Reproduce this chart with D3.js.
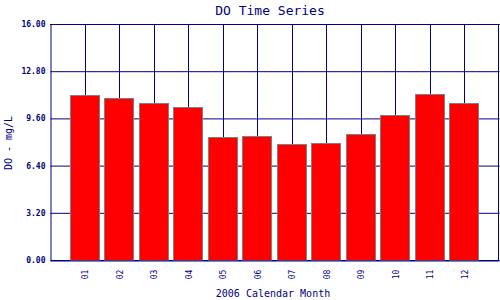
<!DOCTYPE html>
<html>
<head>
<meta charset="utf-8">
<script src="https://cdn.jsdelivr.net/npm/d3@7"></script>
<style>
  body { margin: 0; background: #fff; }
  svg { display: block; }
</style>
</head>
<body>
<div id="chart"></div>
<script>
// monthly DO values, 2006
const months = ['01', '02', '03', '04', '05', '06', '07', '08', '09', '10', '11', '12'];
const doValues = [11.17, 10.96, 10.62, 10.35, 8.32, 8.39, 7.84, 7.91, 8.52, 9.81, 11.23, 10.62];
const yTicks = [0, 3.2, 6.4, 9.6, 12.8, 16];

const width = 500, height = 300;
const margin = { top: 24, right: 1, bottom: 40, left: 50 };
const navy = '#000080';
const font = '"DejaVu Sans Mono", "Liberation Mono", monospace';

const svg = d3.select('#chart')
    .append('svg')
    .attr('width', width)
    .attr('height', height);

const x = d3.scalePoint()
    .domain(months)
    .range([margin.left, width - margin.right])
    .padding(1);

const y = d3.scaleLinear()
    .domain([0, 16])
    .range([height - margin.bottom, margin.top]);

const plotW = width - margin.right - margin.left;
const plotH = height - margin.bottom - margin.top;

// vertical grid lines at month centres
svg.append('g')
    .selectAll('line')
    .data(months)
    .join('line')
    .attr('x1', d => Math.round(x(d)) + 0.5)
    .attr('x2', d => Math.round(x(d)) + 0.5)
    .attr('y1', margin.top)
    .attr('y2', height - margin.bottom)
    .attr('stroke', navy);

// y axis + horizontal grid
const yAxis = svg.append('g')
    .attr('transform', `translate(${margin.left + 0.5},0)`)
    .call(d3.axisLeft(y)
        .tickValues(yTicks)
        .tickFormat(d3.format('.2f'))
        .tickSizeInner(-plotW)
        .tickSizeOuter(0)
        .tickPadding(5));
yAxis.select('.domain').attr('stroke', navy);
yAxis.selectAll('.tick line').attr('stroke', navy);
yAxis.selectAll('.tick text')
    .attr('fill', navy)
    .style('font-family', font)
    .style('font-size', '8px')
    .style('font-weight', 'bold');

// frame: top and right
svg.append('line')
    .attr('x1', margin.left).attr('x2', width - margin.right + 0.5)
    .attr('y1', margin.top + 0.5).attr('y2', margin.top + 0.5)
    .attr('stroke', navy);
svg.append('line')
    .attr('x1', width - margin.right - 0.5).attr('x2', width - margin.right - 0.5)
    .attr('y1', margin.top).attr('y2', height - margin.bottom)
    .attr('stroke', navy);

// bars
const barW = 29;
svg.append('g')
    .selectAll('rect')
    .data(doValues)
    .join('rect')
    .attr('x', (d, i) => Math.round(x(months[i]) - 15) + 0.5)
    .attr('y', d => Math.round(y(d)) + 0.5)
    .attr('width', barW)
    .attr('height', d => Math.round(y(0)) - Math.round(y(d)))
    .attr('fill', '#ff0000')
    .attr('stroke', '#808080');

// x axis
const xAxis = svg.append('g')
    .attr('transform', `translate(0,${height - margin.bottom + 0.5})`)
    .call(d3.axisBottom(x).tickSize(0).tickPadding(0));
xAxis.select('.domain').attr('stroke', navy);
xAxis.selectAll('.tick text')
    .attr('fill', navy)
    .attr('transform', 'translate(3,14) rotate(-90)')
    .attr('dy', null)
    .attr('y', 0)
    .style('text-anchor', 'middle')
    .style('font-family', font)
    .style('font-size', '8px');

// titles
svg.append('text')
    .attr('x', 270)
    .attr('y', 15)
    .attr('text-anchor', 'middle')
    .attr('fill', navy)
    .style('font-family', font)
    .style('font-size', '13px')
    .text('DO Time Series');

svg.append('text')
    .attr('x', 273)
    .attr('y', 297)
    .attr('text-anchor', 'middle')
    .attr('fill', navy)
    .style('font-family', font)
    .style('font-size', '10px')
    .text('2006 Calendar Month');

svg.append('text')
    .attr('transform', `translate(12,${margin.top + plotH / 2 + 1}) rotate(-90)`)
    .attr('text-anchor', 'middle')
    .attr('fill', navy)
    .style('font-family', font)
    .style('font-size', '10px')
    .text('DO - mg/L');
</script>
</body>
</html>
